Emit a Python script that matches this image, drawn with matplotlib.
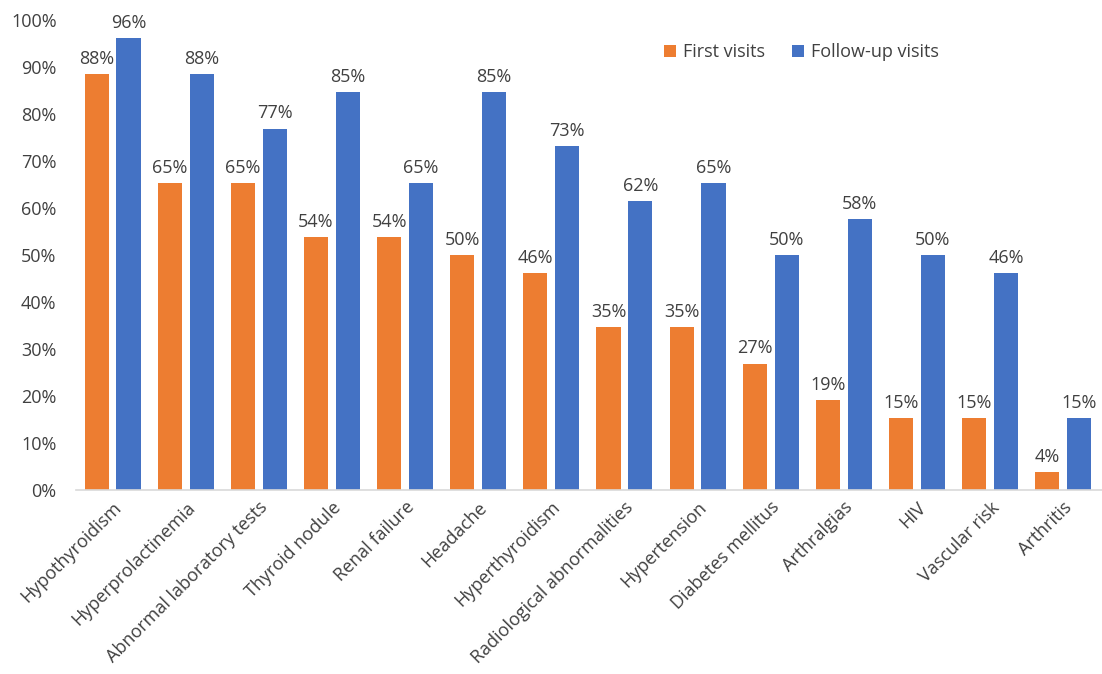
import matplotlib
matplotlib.use("Agg")
import matplotlib.pyplot as plt
import numpy as np
from matplotlib.ticker import PercentFormatter

categories = ["Hypothyroidism", "Hyperprolactinemia", "Abnormal laboratory tests",
              "Thyroid nodule", "Renal failure", "Headache", "Hyperthyroidism",
              "Radiological abnormalities", "Hypertension", "Diabetes mellitus",
              "Arthralgias", "HIV", "Vascular risk", "Arthritis"]
first_visits = [88.5, 65.4, 65.4, 53.8, 53.8, 50.0, 46.2, 34.6, 34.6, 26.9, 19.2, 15.4, 15.4, 3.8]
followup_visits = [96.2, 88.5, 76.9, 84.6, 65.4, 84.6, 73.1, 61.5, 65.4, 50.0, 57.7, 50.0, 46.2, 15.4]
series_names = ["First visits", "Follow-up visits"]
yticks = [0, 10, 20, 30, 40, 50, 60, 70, 80, 90, 100]

plt.rcParams['font.family'] = ['Open Sans', 'DejaVu Sans']
txt = '#404040'
fs = 13

fig = plt.figure(figsize=(11.02, 6.74), dpi=100)
ax = fig.add_axes([76/1102, 1-490/674, 1-76/1102, (490-20)/674])

x = np.arange(len(categories))
w = 0.33
off = 0.218
b1 = ax.bar(x - off, first_visits, w, color='#ED7D31', label=series_names[0])
b2 = ax.bar(x + off, followup_visits, w, color='#4472C4', label=series_names[1])

for bars, vals in ((b1, first_visits), (b2, followup_visits)):
    for r, v in zip(bars, vals):
        ax.text(r.get_x() + r.get_width()/2, v + 1.3, f"{round(v):d}%",
                ha='center', va='bottom', fontsize=fs, color=txt)

ax.set_xlim(-0.5, len(categories) - 0.5 + 0.03)
ax.set_ylim(0, 100)
ax.set_yticks(yticks)
ax.yaxis.set_major_formatter(PercentFormatter(decimals=0))
ax.set_xticks(x)
ax.set_xticklabels(categories, rotation=45, ha='right', rotation_mode='anchor')
ax.tick_params(axis='both', length=0, labelsize=fs, colors=txt)
ax.tick_params(axis='y', pad=14)
ax.tick_params(axis='x', pad=6)
for s in ['top', 'right', 'left']:
    ax.spines[s].set_visible(False)
ax.spines['bottom'].set_color('#d9d9d9')
ax.spines['bottom'].set_linewidth(1.2)

leg = ax.legend(loc='upper left', bbox_to_anchor=((648 - 76) / 1026, 0.985),
                ncol=2, frameon=False, fontsize=fs, handlelength=0.65, handleheight=0.65,
                columnspacing=1.5, handletextpad=0.4)
for t in leg.get_texts():
    t.set_color(txt)

fig.savefig("out.png", dpi=100)
